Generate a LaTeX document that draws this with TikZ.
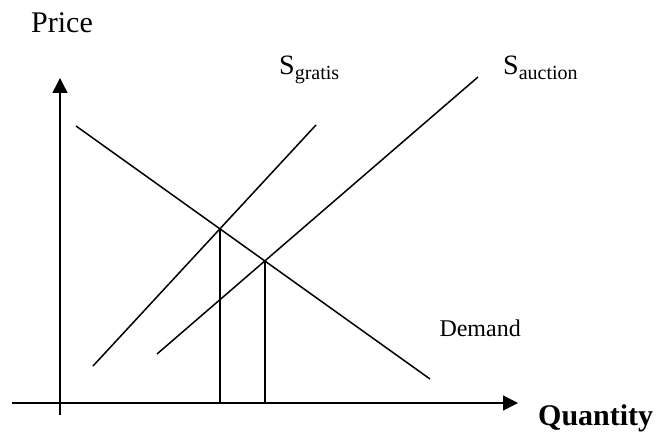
\documentclass[tikz,border=0pt]{standalone}
\usepackage{fontspec}
\setmainfont{Liberation Serif}
\usetikzlibrary{arrows.meta,intersections}
\begin{document}
\begin{tikzpicture}[x=1pt,y=-1pt,
  curve/.style={line width=1.5pt},
  axis/.style={line width=1.5pt,-{Triangle[length=15pt,width=15pt]}},
  lbl/.style={inner sep=0pt,font=\fontsize{30}{32}\selectfont}]
\useasboundingbox (0,0) rectangle (658,435);
% axes
\coordinate (yb) at (60,415);
\coordinate (yt) at (60,78);
\coordinate (xl) at (12,403);
\coordinate (xr) at (518,403);
\draw[axis] (yb) -- (yt);
\draw[axis] (xl) -- (xr);
% curves
\coordinate (d1) at (76,126);
\coordinate (d2) at (430,379);
\coordinate (g1) at (93,366);
\coordinate (g2) at (316,125);
\coordinate (a1) at (157,354);
\coordinate (a2) at (478,77);
\draw[curve,name path=demand] (d1) -- (d2);
\draw[curve,name path=gratis] (g1) -- (g2);
\draw[curve,name path=auction] (a1) -- (a2);
\path[name intersections={of=demand and gratis,by=e1}];
\path[name intersections={of=demand and auction,by=e2}];
\draw[curve] (e1) -- (e1 |- xl);
\draw[curve] (e2) -- (e2 |- xl);
% labels
\node[lbl,anchor=base west] (price) at (31,33) {Price};
\node[lbl,anchor=base west,font=\fontsize{28}{30}\selectfont] (sg) at (279,75) {S\raisebox{-0.15em}{\fontsize{20}{22}\selectfont gratis}};
\node[lbl,anchor=base west,font=\fontsize{28}{30}\selectfont] (sa) at (503,75) {S\raisebox{-0.15em}{\fontsize{20}{22}\selectfont auction}};
\node[lbl,anchor=base east,font=\fontsize{24}{26}\selectfont] (dem) at (521,336) {Demand};
\node[lbl,anchor=base west,font=\fontsize{30}{32}\selectfont\bfseries] (qty) at (538,425) {Quantity};
\end{tikzpicture}
\end{document}
